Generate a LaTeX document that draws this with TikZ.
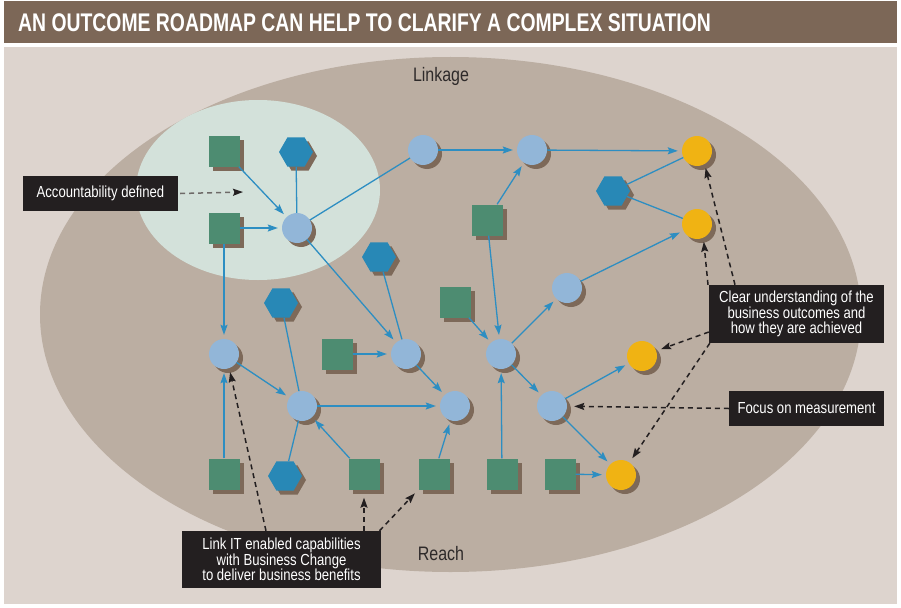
\documentclass[tikz,border=0pt]{standalone}
\usepackage{fontspec}
\setmainfont{Liberation Sans}
\newfontfamily\labelfont{Liberation Sans}[FakeStretch=0.82]
\newfontfamily\titlefont{Liberation Sans}[FakeStretch=0.76]
\usetikzlibrary{shapes.geometric, shadows, arrows.meta}

\definecolor{titlebrown}{HTML}{7C6757}
\definecolor{panelgray}{HTML}{DDD4CE}
\definecolor{fieldtaupe}{HTML}{BBAEA2}
\definecolor{zonemint}{HTML}{D3E1DA}
\definecolor{shadebrown}{HTML}{7D6959}
\definecolor{assetgreen}{HTML}{4D8C71}
\definecolor{hexblue}{HTML}{2888B6}
\definecolor{stepblue}{HTML}{92B6D8}
\definecolor{goalyellow}{HTML}{F0B313}
\definecolor{linkblue}{HTML}{2D8EC2}
\definecolor{notebg}{HTML}{231F20}
\definecolor{inkgray}{HTML}{2E2A2A}
\definecolor{dashgray}{HTML}{6E6A68}

\begin{document}
\begin{tikzpicture}[x=1pt, y=-1pt,
  dropped/.style={drop shadow={shadow xshift=4pt, shadow yshift=-4pt, opacity=1, fill=shadebrown}},
  asset/.style={rectangle, fill=assetgreen, minimum size=31pt, inner sep=0pt, dropped},
  change/.style={regular polygon, regular polygon sides=6, fill=hexblue, minimum size=34pt, inner sep=0pt, dropped},
  benefit/.style={circle, fill=stepblue, minimum size=30pt, inner sep=0pt, dropped},
  outcome/.style={circle, fill=goalyellow, minimum size=30pt, inner sep=0pt, dropped},
  note/.style={fill=notebg, text=white, inner sep=0pt, align=center,
    font=\labelfont\fontsize{16}{15.5}\selectfont},
  flow/.style={draw=linkblue, line width=1.3pt, -{Stealth[length=10pt, width=7pt, inset=1.5pt]}, shorten >=4pt},
  tie/.style={draw=linkblue, line width=1.3pt},
  pointer/.style={draw=notebg, line width=1.5pt, dash pattern=on 5pt off 4pt,
    -{Stealth[length=10pt, width=7pt, inset=1.5pt, color=notebg]}, shorten >=4pt}]
  \useasboundingbox (0,0) rectangle (901,607);
  % frame and fields
  \fill[white] (0,0) rectangle (901,607);
  \fill[titlebrown] (4,1) rectangle (897,43);
  \fill[panelgray] (4,47) rectangle (897,604);
  \fill[fieldtaupe] (450.5,314.5) ellipse [x radius=410.5pt, y radius=257.5pt];
  \fill[zonemint] (258,190) ellipse [x radius=122pt, y radius=90pt];
  \node[anchor=base west, text=white, inner sep=0pt,
    font=\titlefont\bfseries\fontsize{25.5}{25.5}\selectfont] (title) at (18,32)
    {AN OUTCOME ROADMAP CAN HELP TO CLARIFY A COMPLEX SITUATION};
  \node[anchor=base, text=inkgray, inner sep=0pt,
    font=\labelfont\fontsize{19.5}{19.5}\selectfont] (linkage) at (441,82) {Linkage};
  \node[anchor=base, text=inkgray, inner sep=0pt,
    font=\labelfont\fontsize{19.5}{19.5}\selectfont] (reach) at (441,560) {Reach};

  % capabilities
  \node[asset] (cap1) at (224,151) {};
  \node[asset] (cap2) at (224,228) {};
  \node[asset] (cap3) at (487,220) {};
  \node[asset] (cap4) at (455,302) {};
  \node[asset] (cap5) at (337,354) {};
  \node[asset] (cap6) at (224,474) {};
  \node[asset] (cap7) at (364,474) {};
  \node[asset] (cap8) at (434,474) {};
  \node[asset] (cap9) at (502,474) {};
  \node[asset] (cap10) at (560,474) {};
  % business changes
  \node[change] (chg1) at (296,152) {};
  \node[change] (chg2) at (379,257) {};
  \node[change] (chg3) at (281,303) {};
  \node[change] (chg4) at (613,191) {};
  \node[change] (chg5) at (285,476) {};
  % benefits
  \node[benefit] (ben1) at (297,228) {};
  \node[benefit] (ben2) at (423,150) {};
  \node[benefit] (ben3) at (532,150) {};
  \node[benefit] (ben4) at (224,354) {};
  \node[benefit] (ben5) at (406,354) {};
  \node[benefit] (ben6) at (302,406) {};
  \node[benefit] (ben7) at (455,406) {};
  \node[benefit] (ben8) at (567,288) {};
  \node[benefit] (ben9) at (501,354) {};
  \node[benefit] (ben10) at (552,406) {};
  % outcomes
  \node[outcome] (out1) at (697,151) {};
  \node[outcome] (out2) at (697,224) {};
  \node[outcome] (out3) at (642,356) {};
  \node[outcome] (out4) at (621,475) {};

  \foreach \a/\b in {cap1/ben1, cap2/ben1, ben2/ben3, ben3/out1, cap3/ben3,
      cap3/ben9, cap4/ben9, ben9/ben8, ben8/out2, ben9/ben10, ben10/out3,
      ben10/out4, cap10/out4, cap9/ben9, ben1/ben5, cap5/ben5, ben5/ben7,
      cap2/ben4, cap6/ben4, ben4/ben6, ben6/ben7, cap7/ben6, cap8/ben7}
    \draw[flow] (\a) -- (\b);
  \foreach \a/\b in {chg1/ben1, ben1/ben2, chg4/out1, chg4/out2,
      chg2/ben5, chg3/ben6, chg5/ben6}
    \draw[tie] (\a) -- (\b);

  % callouts
  \node[note, minimum width=155pt, minimum height=35pt] (acc) at (100.5,193.5) {Accountability defined};
  \node[note, minimum width=175pt, minimum height=58pt] (clear) at (796.5,314)
    {Clear understanding of the\\business outcomes and\\how they are achieved};
  \node[note, minimum width=155pt, minimum height=35pt] (focus) at (806.5,408.5) {Focus on measurement};
  \node[note, minimum width=199pt, minimum height=57pt] (link) at (281.5,559.5)
    {Link IT enabled capabilities\\with Business Change\\to deliver business benefits};
  \coordinate (accTip) at (243,192);

  \draw[pointer, draw=dashgray, shorten >=0pt] ([xshift=2pt]acc.east) -- (accTip);
  \draw[pointer] ([xshift=-61.5pt]clear.north) -- (out1.-60);
  \draw[pointer] ([xshift=-88.5pt]clear.north) -- (out2.-65);
  \draw[pointer, shorten >=5pt] ([yshift=-18pt]clear.west) -- (out3);
  \draw[pointer, shorten >=5pt] ([xshift=1pt]clear.south west) -- (out4);
  \draw[pointer, shorten >=7pt] (focus.west) -- (ben10);
  \draw[pointer] ([xshift=-15.5pt]link.north) -- (ben4.-70);
  \draw[pointer, shorten >=8pt] ([xshift=82.5pt]link.north) -- (cap7.south);
  \draw[pointer, shorten >=5pt] ([xshift=98pt]link.north) -- (cap8.south west);
\end{tikzpicture}
\end{document}
